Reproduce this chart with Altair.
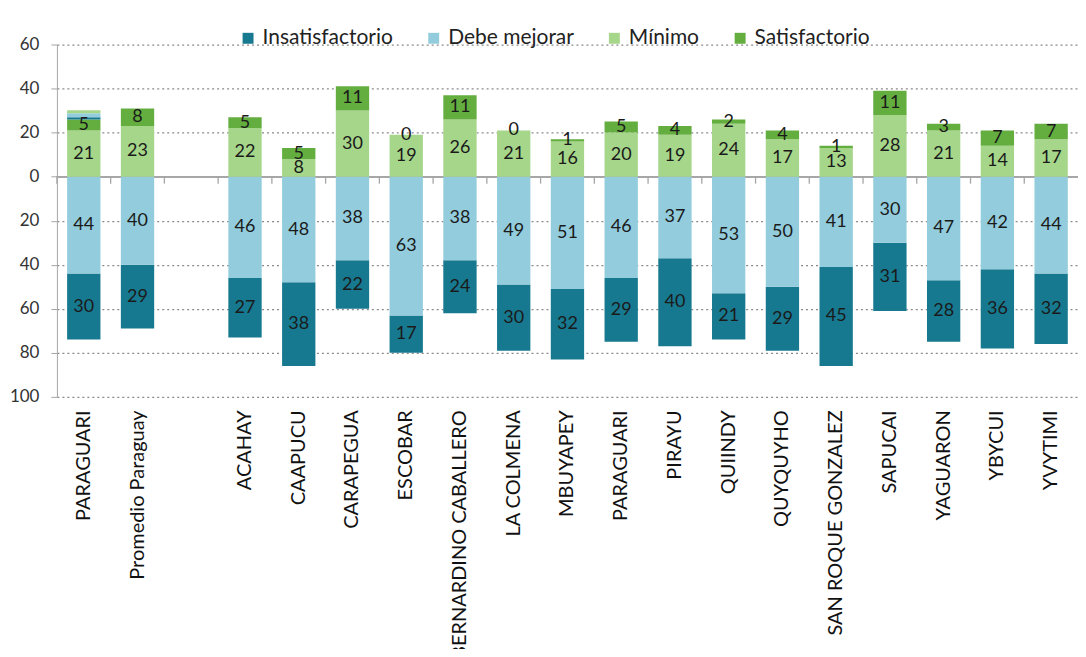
import altair as alt
import pandas as pd

categories = ["PARAGUARI", "Promedio Paraguay", " ", "ACAHAY", "CAAPUCU", "CARAPEGUA",
              "ESCOBAR", "BERNARDINO CABALLERO", "LA COLMENA", "MBUYAPEY", "PARAGUARI ",
              "PIRAYU", "QUIINDY", "QUYQUYHO", "SAN ROQUE GONZALEZ", "SAPUCAI",
              "YAGUARON", "YBYCUI", "YVYTIMI"]
insatisfactorio = [30, 29, None, 27, 38, 22, 17, 24, 30, 32, 29, 40, 21, 29, 45, 31, 28, 36, 32]
debe_mejorar    = [44, 40, None, 46, 48, 38, 63, 38, 49, 51, 46, 37, 53, 50, 41, 30, 47, 42, 44]
minimo          = [21, 23, None, 22, 8, 30, 19, 26, 21, 16, 20, 19, 24, 17, 13, 28, 21, 14, 17]
satisfactorio   = [5, 8, None, 5, 5, 11, 0, 11, 0, 1, 5, 4, 2, 4, 1, 11, 3, 7, 7]

# thin unlabeled strips drawn on top of the first bar in the original chart
strip_category = "PARAGUARI"
strip_levels = ["Insatisfactorio", "Debe mejorar", "Mínimo"]
strip_values = [1.0, 1.8, 1.4]

levels = ["Insatisfactorio", "Debe mejorar", "Mínimo", "Satisfactorio"]
colors = ["#17798f", "#93cddd", "#a6d68a", "#64ae40"]
signs = [-1, -1, 1, 1]
stack_order = [2, 0, 1, 3]
series = [insatisfactorio, debe_mejorar, minimo, satisfactorio]

rows = []
for i, cat in enumerate(categories):
    for lev, sgn, od, vals in zip(levels, signs, stack_order, series):
        v = vals[i]
        if v is None:
            continue
        rows.append({"cat": cat, "nivel": lev, "value": sgn * v, "label": str(v), "ord": od})
for k, (lev, v) in enumerate(zip(strip_levels, strip_values)):
    rows.append({"cat": strip_category, "nivel": lev, "value": v, "label": "", "ord": 4 + k})
df = pd.DataFrame(rows)
cat_df = pd.DataFrame({"cat": categories, "zero": [0] * len(categories)})

FONT = "Lato"
W, H = 1023, 353
P_INNER = 0.38
STEP = W / len(categories)
GRAY = "#a6a6a6"

base = alt.Chart(df).transform_stack(
    stack="value", groupby=["cat"], sort=[alt.SortField("ord", order="ascending")],
    as_=["v0", "v1"]
).transform_calculate(mid="(datum.v0 + datum.v1) / 2")

xscale = alt.Scale(domain=categories, paddingInner=P_INNER, paddingOuter=P_INNER / 2)
yscale = alt.Scale(domain=[-100, 60], nice=False, zero=False)

yaxis = alt.Axis(values=[-100, -80, -60, -40, -20, 0, 20, 40, 60],
                 labelExpr="abs(datum.value)", title=None,
                 grid=True, gridColor="#8a8a8a", gridDash=[2, 3], gridWidth=1.2,
                 domainColor=GRAY, tickColor=GRAY, tickSize=6,
                 labelPadding=12, labelFontSize=17, labelColor="#333333",
                 labelFont=FONT, minExtent=49, maxExtent=49)

zero_line = alt.Chart(cat_df).mark_rule(color=GRAY, strokeWidth=1.3).encode(
    y=alt.Y("zero:Q", scale=yscale, axis=yaxis),
)

zero_ticks = alt.Chart(cat_df).mark_rule(
    color=GRAY, strokeWidth=1.3, xOffset=-STEP * P_INNER / 2, y2Offset=7
).encode(
    x=alt.X("cat:N", scale=xscale, sort=None, bandPosition=0),
    y=alt.Y("zero:Q", scale=yscale),
    y2="zero:Q",
)

bars = base.mark_bar().encode(
    x=alt.X("cat:N", scale=xscale, sort=None,
            axis=alt.Axis(title=None, labelAngle=-90, ticks=False, domain=False,
                          labelExpr="trim(datum.label)", labelFontSize=20,
                          labelFont=FONT, labelColor="#111111", labelPadding=13,
                          labelLimit=400)),
    y=alt.Y("v0:Q", scale=yscale),
    y2="v1:Q",
    color=alt.Color("nivel:N", scale=alt.Scale(domain=levels, range=colors),
                    legend=alt.Legend(title=None, orient="none", legendX=181, legendY=-17,
                                      direction="horizontal", symbolType="square",
                                      symbolSize=120, symbolStrokeWidth=0,
                                      labelFontSize=21, labelFont=FONT,
                                      labelColor="#222222", columnPadding=30,
                                      labelOffset=4)),
)

texts = base.mark_text(fontSize=18, font=FONT, color="#1a1a1a").encode(
    x=alt.X("cat:N", scale=xscale, sort=None),
    y=alt.Y("mid:Q", scale=yscale),
    text="label:N",
)

chart = alt.layer(zero_line, zero_ticks, bars, texts).properties(
    width=W, height=H,
    autosize=alt.AutoSizeParams(type="none"),
    padding={"left": 49, "top": 36, "right": 0, "bottom": 252},
).configure_view(stroke=None)

chart.save("out.html", embed_options={"renderer": "svg", "actions": False})
